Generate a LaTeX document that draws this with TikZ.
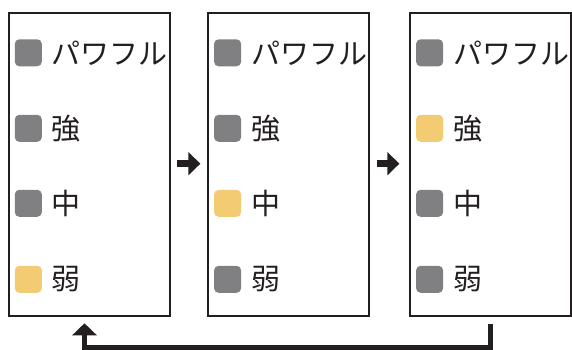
\documentclass[tikz,border=0pt]{standalone}
\usepackage{fontspec}
\setmainfont{Noto Sans CJK JP}
\usetikzlibrary{arrows.meta,calc}
\definecolor{offgray}{RGB}{128,128,131}
\definecolor{onyellow}{RGB}{243,203,115}
\definecolor{ink}{RGB}{35,31,32}
\tikzset{
  panel/.style={draw=ink, line width=1.8pt, minimum width=161pt, minimum height=303pt, inner sep=0pt},
  lamp/.style={rounded corners=4.5pt, minimum size=27pt, inner sep=0pt},
  offlamp/.style={lamp, fill=offgray},
  onlamp/.style={lamp, fill=onyellow},
  label/.style={anchor=west, inner sep=0pt, text=ink, font=\fontsize{29pt}{29pt}\selectfont},
  nextarrow/.style={draw=ink, line width=6.5pt, -{Triangle[width=22.5pt,length=12pt]}},
  backarrow/.style={draw=ink, line width=5pt, -{Triangle[width=24pt,length=12pt]}}
}
\begin{document}
\begin{tikzpicture}[x=1pt,y=-1pt]
\useasboundingbox (0,0) rectangle (572,349);
% panels
\node[panel] (p1) at (89.5,164.3) {};
\node[panel] (p2) at (288.8,164.3) {};
\node[panel] (p3) at (490.8,164.3) {};
% panel 1
\node[offlamp] (a1) at (28.3,52.8) {};
\node[offlamp] (a2) at (28.3,128.3) {};
\node[offlamp] (a3) at (28.3,203.3) {};
\node[onlamp]  (a4) at (28.3,279.3) {};
\node[label] (ta1) at (51.5,52.8) {パワフル};
\node[label] (ta2) at (51.5,128.3) {強};
\node[label] (ta3) at (51.5,203.3) {中};
\node[label] (ta4) at (51.5,279.3) {弱};
% panel 2
\node[offlamp] (b1) at (227.6,52.8) {};
\node[offlamp] (b2) at (227.6,128.3) {};
\node[onlamp]  (b3) at (227.6,203.3) {};
\node[offlamp] (b4) at (227.6,279.3) {};
\node[label] (tb1) at (250.8,52.8) {パワフル};
\node[label] (tb2) at (250.8,128.3) {強};
\node[label] (tb3) at (250.8,203.3) {中};
\node[label] (tb4) at (250.8,279.3) {弱};
% panel 3
\node[offlamp] (c1) at (429.6,52.8) {};
\node[onlamp]  (c2) at (429.6,128.3) {};
\node[offlamp] (c3) at (429.6,203.3) {};
\node[offlamp] (c4) at (429.6,279.3) {};
\node[label] (tc1) at (452.8,52.8) {パワフル};
\node[label] (tc2) at (452.8,128.3) {強};
\node[label] (tc3) at (452.8,203.3) {中};
\node[label] (tc4) at (452.8,279.3) {弱};
% arrows between panels
\draw[nextarrow] ($(p1.east)+(6.5,-0.6)$) -- ($(p2.west)+(-7,-0.6)$);
\draw[nextarrow] ($(p2.east)+(6.5,-0.6)$) -- ($(p3.west)+(-10,-0.6)$);
% return arrow
\coordinate (r0) at ($(p3.south)+(0,7)$);
\coordinate (r1) at (84.5,323.3);
\draw[backarrow] (r0) -- ++(0,24) -| (r1);
\end{tikzpicture}
\end{document}
